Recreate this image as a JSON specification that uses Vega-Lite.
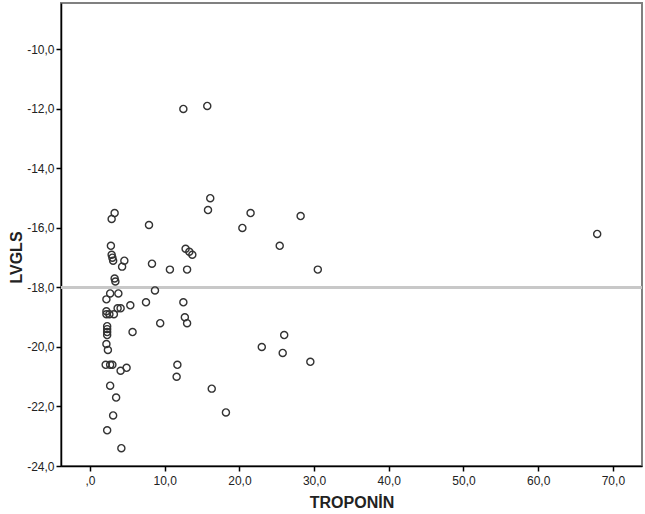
{
  "$schema": "https://vega.github.io/schema/vega-lite/v6.json",
  "width": 581,
  "height": 463,
  "autosize": {"type": "none"},
  "padding": {"left": 61, "top": 3, "right": 3, "bottom": 48},
  "background": "white",
  "config": {
    "locale": {"number": {"decimal": ",", "thousands": ".", "grouping": [3], "currency": ["", ""], "minus": "-"}},
    "view": {"stroke": "#808080", "strokeWidth": 2},
    "axis": {
      "domainColor": "#000000",
      "domainWidth": 1.5,
      "tickColor": "#000000",
      "tickWidth": 1.5,
      "tickSize": 5,
      "grid": false,
      "labelFont": "Liberation Sans",
      "labelFontSize": 12,
      "labelColor": "#222222",
      "titleFont": "Liberation Sans",
      "titleFontSize": 16,
      "titleFontWeight": "bold",
      "titleColor": "#222222"
    }
  },
  "data": {
    "values": [
      {"troponin": 12.5, "lvgls": -12.0},
      {"troponin": 15.7, "lvgls": -11.9},
      {"troponin": 16.1, "lvgls": -15.0},
      {"troponin": 15.8, "lvgls": -15.4},
      {"troponin": 3.3, "lvgls": -15.5},
      {"troponin": 2.9, "lvgls": -15.7},
      {"troponin": 7.9, "lvgls": -15.9},
      {"troponin": 21.5, "lvgls": -15.5},
      {"troponin": 20.4, "lvgls": -16.0},
      {"troponin": 28.2, "lvgls": -15.6},
      {"troponin": 25.4, "lvgls": -16.6},
      {"troponin": 30.5, "lvgls": -17.4},
      {"troponin": 26.0, "lvgls": -19.6},
      {"troponin": 23.0, "lvgls": -20.0},
      {"troponin": 25.8, "lvgls": -20.2},
      {"troponin": 29.5, "lvgls": -20.5},
      {"troponin": 18.2, "lvgls": -22.2},
      {"troponin": 67.9, "lvgls": -16.2},
      {"troponin": 2.8, "lvgls": -16.6},
      {"troponin": 2.9, "lvgls": -16.9},
      {"troponin": 3.0, "lvgls": -17.0},
      {"troponin": 3.1, "lvgls": -17.1},
      {"troponin": 4.6, "lvgls": -17.1},
      {"troponin": 4.3, "lvgls": -17.3},
      {"troponin": 8.3, "lvgls": -17.2},
      {"troponin": 10.7, "lvgls": -17.4},
      {"troponin": 12.8, "lvgls": -16.7},
      {"troponin": 13.3, "lvgls": -16.8},
      {"troponin": 13.7, "lvgls": -16.9},
      {"troponin": 13.0, "lvgls": -17.4},
      {"troponin": 3.3, "lvgls": -17.7},
      {"troponin": 3.4, "lvgls": -17.8},
      {"troponin": 2.7, "lvgls": -18.2},
      {"troponin": 3.8, "lvgls": -18.2},
      {"troponin": 8.7, "lvgls": -18.1},
      {"troponin": 2.2, "lvgls": -18.4},
      {"troponin": 7.5, "lvgls": -18.5},
      {"troponin": 12.5, "lvgls": -18.5},
      {"troponin": 5.4, "lvgls": -18.6},
      {"troponin": 3.7, "lvgls": -18.7},
      {"troponin": 4.1, "lvgls": -18.7},
      {"troponin": 2.2, "lvgls": -18.8},
      {"troponin": 2.2, "lvgls": -18.9},
      {"troponin": 2.6, "lvgls": -18.9},
      {"troponin": 3.2, "lvgls": -18.9},
      {"troponin": 12.7, "lvgls": -19.0},
      {"troponin": 13.0, "lvgls": -19.2},
      {"troponin": 9.4, "lvgls": -19.2},
      {"troponin": 2.3, "lvgls": -19.3},
      {"troponin": 2.3, "lvgls": -19.4},
      {"troponin": 2.3, "lvgls": -19.5},
      {"troponin": 2.3, "lvgls": -19.6},
      {"troponin": 5.7, "lvgls": -19.5},
      {"troponin": 2.2, "lvgls": -19.9},
      {"troponin": 2.4, "lvgls": -20.1},
      {"troponin": 2.1, "lvgls": -20.6},
      {"troponin": 2.7, "lvgls": -20.6},
      {"troponin": 3.0, "lvgls": -20.6},
      {"troponin": 4.9, "lvgls": -20.7},
      {"troponin": 4.1, "lvgls": -20.8},
      {"troponin": 11.7, "lvgls": -20.6},
      {"troponin": 11.6, "lvgls": -21.0},
      {"troponin": 2.7, "lvgls": -21.3},
      {"troponin": 16.3, "lvgls": -21.4},
      {"troponin": 3.5, "lvgls": -21.7},
      {"troponin": 3.1, "lvgls": -22.3},
      {"troponin": 2.3, "lvgls": -22.8},
      {"troponin": 4.2, "lvgls": -23.4}
    ]
  },
  "layer": [
    {
      "mark": {"type": "rule", "color": "#c8c8c8", "strokeWidth": 1.6},
      "encoding": {"y": {"datum": -18}}
    },
    {
      "mark": {"type": "point", "shape": "circle", "filled": false, "size": 50, "stroke": "#333333", "strokeWidth": 1.4, "opacity": 1},
      "encoding": {
        "x": {
          "field": "troponin",
          "type": "quantitative",
          "title": "TROPONİN",
          "scale": {"domain": [-3.88, 73.9], "nice": false, "zero": false},
          "axis": {"values": [0, 10, 20, 30, 40, 50, 60, 70], "format": ".1f", "labelExpr": "datum.value === 0 ? ',0' : datum.label", "labelPadding": 4, "titlePadding": 8}
        },
        "y": {
          "field": "lvgls",
          "type": "quantitative",
          "title": "LVGLS",
          "scale": {"domain": [-24, -8.44], "nice": false, "zero": false},
          "axis": {"values": [-24, -22, -20, -18, -16, -14, -12, -10], "format": ".1f", "labelPadding": 2, "titlePadding": 2, "titleY": 254}
        }
      }
    }
  ]
}
